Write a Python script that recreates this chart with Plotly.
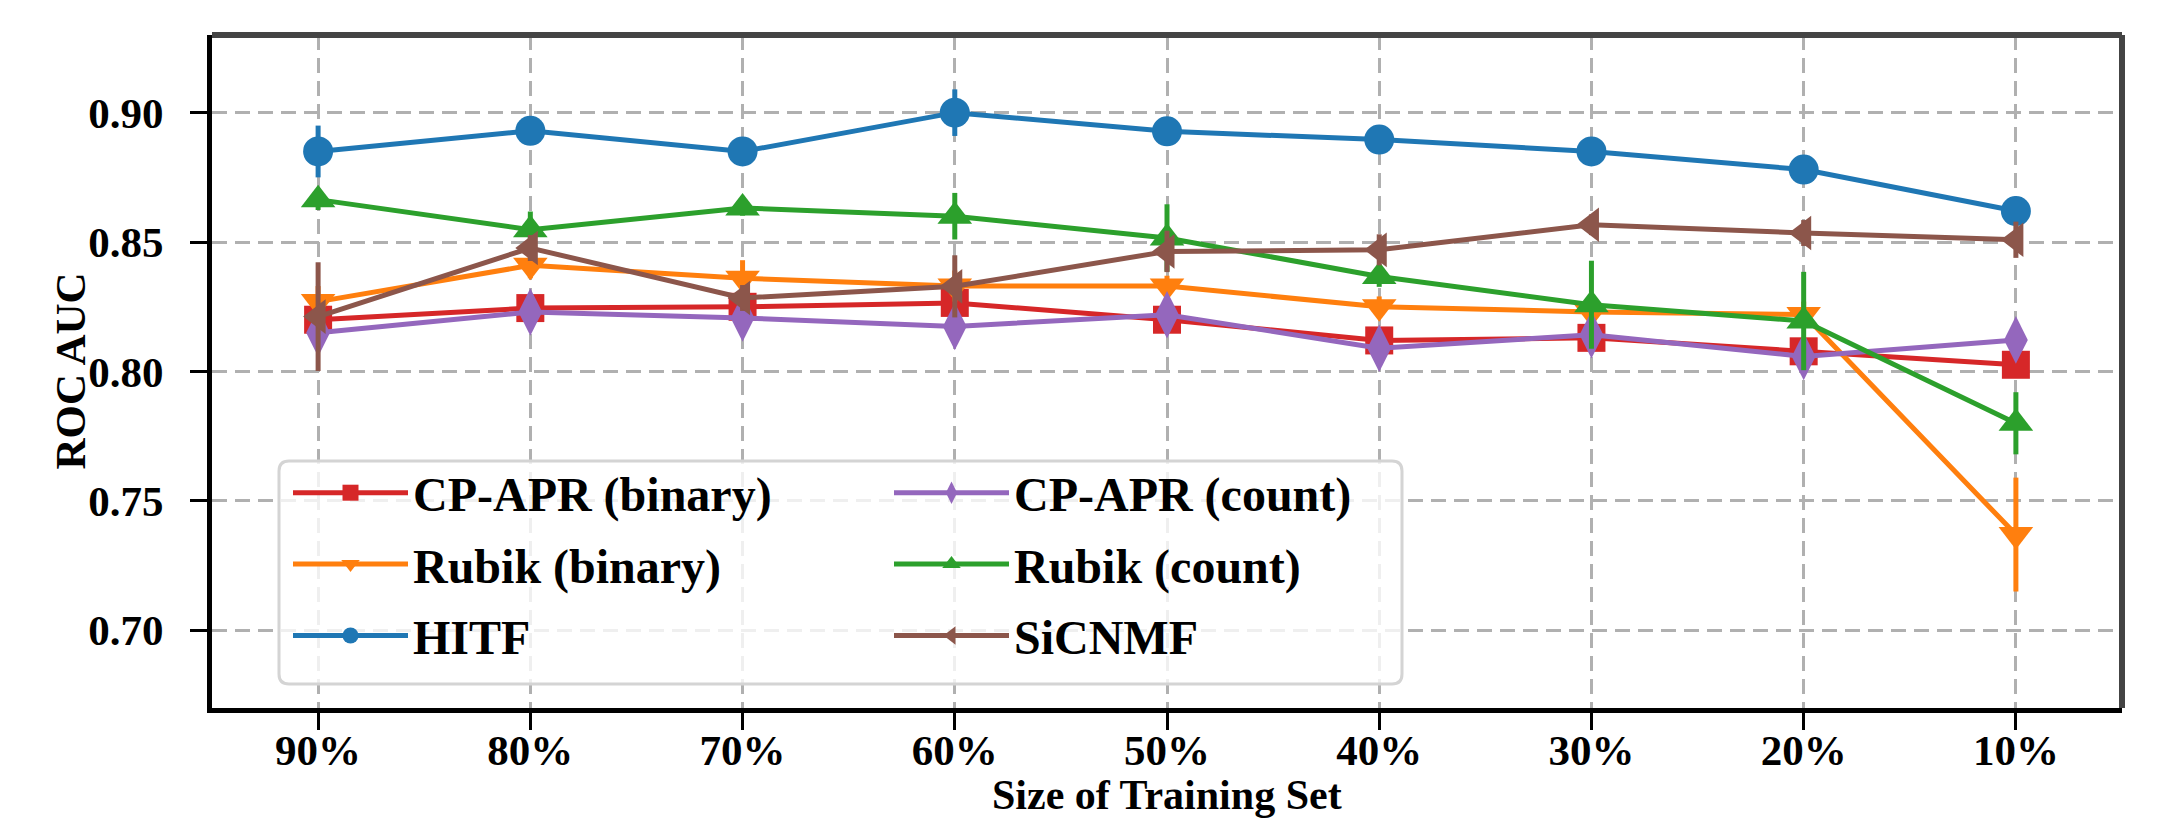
import plotly.graph_objects as go

# ---------------- data ----------------
train_sizes = ["90%", "80%", "70%", "60%", "50%", "40%", "30%", "20%", "10%"]

cpapr_binary = [0.820, 0.8245, 0.825, 0.8265, 0.820, 0.812, 0.813, 0.8078, 0.8026]
cpapr_binary_err = [0.004, 0.004, 0.003, 0.004, 0.004, 0.004, 0.004, 0.004, 0.004]

rubik_binary = [0.827, 0.841, 0.836, 0.833, 0.833, 0.825, 0.823, 0.822, 0.737]
rubik_binary_err = [0.006, 0.005, 0.007, 0.006, 0.004, 0.004, 0.004, 0.005, 0.022]

hitf = [0.885, 0.893, 0.885, 0.900, 0.8928, 0.8896, 0.885, 0.878, 0.862]
hitf_err = [0.010, 0.004, 0.003, 0.009, 0.004, 0.003, 0.005, 0.004, 0.005]

cpapr_count = [0.815, 0.823, 0.8207, 0.8174, 0.8219, 0.809, 0.8142, 0.8058, 0.8122]
cpapr_count_err = [0.005, 0.006, 0.004, 0.006, 0.004, 0.004, 0.004, 0.005, 0.005]

rubik_count = [0.8664, 0.8548, 0.8632, 0.860, 0.8516, 0.8367, 0.8258, 0.8195, 0.780]
rubik_count_err = [0.004, 0.007, 0.003, 0.009, 0.013, 0.004, 0.017, 0.019, 0.012]

sicnmf = [0.8212, 0.8477, 0.8284, 0.8329, 0.8464, 0.847, 0.8567, 0.8535, 0.8509]
sicnmf_err = [0.021, 0.005, 0.005, 0.012, 0.008, 0.006, 0.004, 0.005, 0.007]

y_ticks = [0.70, 0.75, 0.80, 0.85, 0.90]

# ---------------- figure ----------------
FONT = "Liberation Serif, Times New Roman, serif"
W, H = 2169, 819
ML, MR, MT, MB = 212, 47, 35, 111
PW, PH = W - ML - MR, H - MT - MB

series = [
    # name, values, errors, color, symbol, size, legend
    ("CP-APR (binary)", cpapr_binary, cpapr_binary_err, "#d62728", "square", 28, "legend"),
    ("Rubik (binary)", rubik_binary, rubik_binary_err, "#ff7f0e", "triangle-down", 30, "legend"),
    ("HITF", hitf, hitf_err, "#1f77b4", "circle", 30, "legend"),
    ("CP-APR (count)", cpapr_count, cpapr_count_err, "#9467bd", "diamond-tall", 34, "legend2"),
    ("Rubik (count)", rubik_count, rubik_count_err, "#2ca02c", "triangle-up", 30, "legend2"),
    ("SiCNMF", sicnmf, sicnmf_err, "#8c564b", "triangle-left", 30, "legend2"),
]

fig = go.Figure()
for i, (name, vals, errs, color, sym, size, leg) in enumerate(series):
    fig.add_trace(go.Scatter(
        x=train_sizes, y=vals, name=name, mode="lines+markers",
        line=dict(color=color, width=5),
        marker=dict(symbol=sym, size=size, color=color, line=dict(width=0)),
        error_y=dict(type="data", array=errs, visible=True, thickness=5, width=0, color=color),
        legend=leg, legendgroup=f"g{i}", legendrank=i + 1,
    ))

def px_x(p):
    return (p - ML) / PW

def px_y(p):
    return (MT + PH - p) / PH

# legend frame (rounded box)
x0, x1 = px_x(279), px_x(1402)
y0, y1 = px_y(684), px_y(461)
rx, ry = 10 / PW, 10 / PH
path = (f"M {x0+rx},{y0} L {x1-rx},{y0} Q {x1},{y0} {x1},{y0+ry} "
        f"L {x1},{y1-ry} Q {x1},{y1} {x1-rx},{y1} L {x0+rx},{y1} Q {x0},{y1} {x0},{y1-ry} "
        f"L {x0},{y0+ry} Q {x0},{y0} {x0+rx},{y0} Z")

shapes = [
    dict(type="path", xref="paper", yref="paper", path=path, layer="above",
         fillcolor="rgba(255,255,255,0.8)", line=dict(color="#d4d4d4", width=3)),
    dict(type="line", xref="paper", yref="paper", x0=0, x1=1, y0=1, y1=1,
         layer="above", line=dict(color="#444444", width=6)),
    dict(type="line", xref="paper", yref="paper", x0=1, x1=1, y0=0, y1=1,
         layer="above", line=dict(color="#444444", width=6)),
]

legend_common = dict(
    orientation="v", bgcolor="rgba(0,0,0,0)", borderwidth=0,
    font=dict(family=FONT, size=48, color="black", weight="bold"),
    yanchor="top", xanchor="left", itemwidth=115,
    traceorder="grouped", tracegroupgap=6,
)

title_font = dict(family=FONT, size=43, color="black", weight="bold")

fig.update_layout(
    width=W, height=H,
    margin=dict(l=ML, r=MR, t=MT, b=MB, pad=0, autoexpand=False),
    paper_bgcolor="white", plot_bgcolor="white",
    font=dict(family=FONT, size=43, color="black", weight="bold"),
    showlegend=True,
    legend=dict(x=px_x(288), y=px_y(455), **legend_common),
    legend2=dict(x=px_x(889), y=px_y(455), **legend_common),
    shapes=shapes,
    annotations=[
        dict(text="ROC AUC", xref="paper", yref="paper", x=px_x(70), y=0.5,
             xanchor="center", yanchor="middle", textangle=-90, showarrow=False,
             font=title_font),
        dict(text="Size of Training Set", xref="paper", yref="paper", x=0.5, y=px_y(795),
             xanchor="center", yanchor="middle", showarrow=False,
             font=dict(family=FONT, size=42, color="black", weight="bold")),
    ],
    xaxis=dict(
        type="category", range=[-0.5, 8.5], automargin=False,
        showline=True, linecolor="black", linewidth=5,
        ticks="outside", ticklen=17, tickwidth=3, tickcolor="black",
        showgrid=True, gridcolor="#b0b0b0", gridwidth=3, griddash="15px,8px",
        tickfont=dict(family=FONT, size=43, color="black", weight="bold"),
        ticklabelstandoff=-17,
        zeroline=False, fixedrange=True,
    ),
    yaxis=dict(
        range=[0.67, 0.93], tickvals=y_ticks, tickformat=".2f", automargin=False,
        showline=True, linecolor="black", linewidth=5,
        ticks="outside", ticklen=17, tickwidth=3, tickcolor="black",
        showgrid=True, gridcolor="#b0b0b0", gridwidth=3, griddash="15px,8px",
        tickfont=dict(family=FONT, size=43, color="black", weight="bold"),
        ticklabelstandoff=18,
        zeroline=False, fixedrange=True,
    ),
)

fig.write_html(
    "out.html",
    post_script="document.body.style.margin='0';document.body.style.overflow='hidden';",
    config={"displayModeBar": False},
)
